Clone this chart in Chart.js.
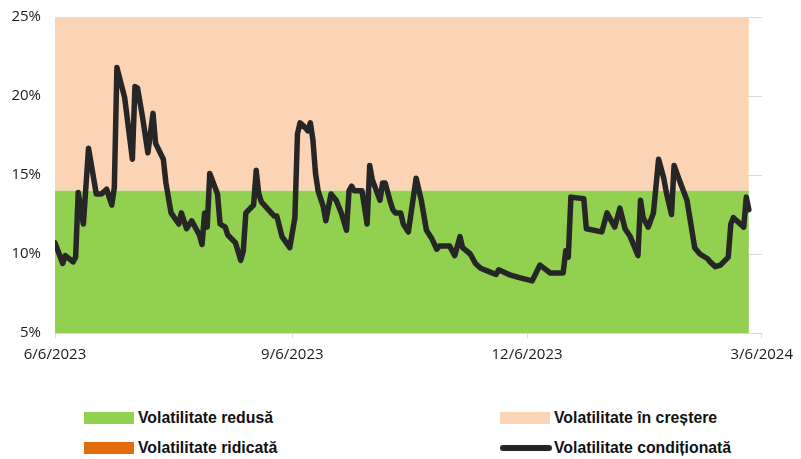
<!DOCTYPE html>
<html lang="ro">
<head>
<meta charset="UTF-8">
<title>Volatilitate condiționată</title>
<script src="https://cdn.jsdelivr.net/npm/chart.js"></script>
<style>
    * { margin: 0; padding: 0; box-sizing: border-box; }
    body { width: 801px; height: 459px; background: #fff; position: relative; overflow: hidden; }
    #wrap { position: absolute; left: 0; top: -6px; width: 801px; height: 379px; }
    .legend-item {
        position: absolute;
        height: 20px;
        display: flex;
        align-items: center;
        font-family: 'Liberation Sans Narrow', 'Arial Narrow', 'Liberation Sans', sans-serif;
        font-weight: bold;
        font-size: 17px;
        color: #111;
        white-space: nowrap;
    }
    .legend-item .txt { display: inline-block; transform: scaleX(0.93); transform-origin: left center; }
    .legend-item .box { width: 50px; height: 12px; margin-right: 4px; }
    .legend-item .line { width: 52px; height: 6px; border-radius: 3px; background: #262626; margin-right: 2px; }
</style>
</head>
<body>
<div id="wrap"><canvas id="chart" width="801" height="379"></canvas></div>

<div class="legend-item" style="left:84px; top:408px;"><span class="box" style="background:#92d050"></span><span class="txt">Volatilitate redusă</span></div>
<div class="legend-item" style="left:500px; top:408px;"><span class="box" style="background:#fad4b4"></span><span class="txt">Volatilitate în creștere</span></div>
<div class="legend-item" style="left:84px; top:438px;"><span class="box" style="background:#e46c0a"></span><span class="txt">Volatilitate ridicată</span></div>
<div class="legend-item" style="left:500px; top:438px;"><span class="line"></span><span class="txt">Volatilitate condiționată</span></div>

<script>
// data
const dates = [
    '2023-06-06','2023-06-09','2023-06-10','2023-06-13','2023-06-14','2023-06-15','2023-06-17','2023-06-19',
    '2023-06-22','2023-06-24','2023-06-26','2023-06-28','2023-06-29','2023-06-30','2023-07-03','2023-07-06',
    '2023-07-07','2023-07-08','2023-07-10','2023-07-12','2023-07-14','2023-07-15','2023-07-18','2023-07-19',
    '2023-07-21','2023-07-24','2023-07-25','2023-07-27','2023-07-29','2023-08-01','2023-08-02','2023-08-03',
    '2023-08-04','2023-08-05','2023-08-08','2023-08-09','2023-08-11','2023-08-12','2023-08-15','2023-08-17',
    '2023-08-18','2023-08-19','2023-08-22','2023-08-23','2023-08-24','2023-08-25','2023-08-30','2023-08-31',
    '2023-09-02','2023-09-05','2023-09-07','2023-09-08','2023-09-09','2023-09-11','2023-09-12','2023-09-13',
    '2023-09-14','2023-09-15','2023-09-16','2023-09-18','2023-09-19','2023-09-21','2023-09-23','2023-09-25',
    '2023-09-27','2023-09-28','2023-09-29','2023-09-30','2023-10-03','2023-10-05','2023-10-06','2023-10-07',
    '2023-10-10','2023-10-11','2023-10-12','2023-10-14','2023-10-15','2023-10-16','2023-10-18','2023-10-19',
    '2023-10-21','2023-10-24','2023-10-26','2023-10-28','2023-10-30','2023-11-01','2023-11-02','2023-11-06',
    '2023-11-08','2023-11-10','2023-11-11','2023-11-14','2023-11-16','2023-11-18','2023-11-21','2023-11-24',
    '2023-11-25','2023-11-29','2023-12-03','2023-12-08','2023-12-11','2023-12-15','2023-12-20','2023-12-21',
    '2023-12-22','2023-12-23','2023-12-28','2023-12-29','2024-01-04','2024-01-06','2024-01-09','2024-01-11',
    '2024-01-13','2024-01-15','2024-01-18','2024-01-19','2024-01-20','2024-01-22','2024-01-24','2024-01-26',
    '2024-01-28','2024-01-29','2024-01-31','2024-02-01','2024-02-03','2024-02-06','2024-02-09','2024-02-11',
    '2024-02-14','2024-02-15','2024-02-17','2024-02-19','2024-02-22','2024-02-23','2024-02-24','2024-02-28',
    '2024-02-29','2024-03-01'
];
const volatility = [
    10.7, 9.4, 9.9, 9.5, 9.8, 13.9, 11.9, 16.7,
    13.8, 13.8, 14.1, 13.1, 14.2, 21.8, 19.9, 16.0,
    20.6, 20.5, 18.6, 16.4, 18.9, 17.0, 16.0, 14.5,
    12.6, 11.9, 12.6, 11.6, 12.1, 11.2, 10.6, 12.6,
    11.7, 15.1, 13.8, 11.9, 11.7, 11.2, 10.7, 9.6,
    10.2, 12.6, 13.1, 15.3, 13.8, 13.3, 12.4, 12.4,
    11.1, 10.4, 12.3, 17.6, 18.3, 18.0, 17.8, 18.3,
    17.2, 15.1, 14.0, 13.0, 12.1, 13.8, 13.4, 12.6,
    11.5, 14.0, 14.3, 14.0, 14.0, 11.9, 15.6, 14.7,
    13.4, 14.5, 14.5, 13.3, 12.8, 12.6, 12.6, 11.9,
    11.4, 14.8, 13.4, 11.5, 11.0, 10.3, 10.5, 10.5,
    9.9, 11.1, 10.4, 10.0, 9.4, 9.1, 8.9, 8.7,
    9.0, 8.7, 8.5, 8.3, 9.3, 8.8, 8.8, 10.2,
    9.8, 13.6, 13.5, 11.6, 11.4, 12.6, 11.7, 12.9,
    11.6, 11.1, 9.9, 13.4, 12.3, 11.7, 12.6, 16.0,
    14.8, 13.9, 12.5, 15.6, 14.7, 13.4, 10.4, 10.0,
    9.7, 9.5, 9.2, 9.3, 9.8, 11.9, 12.3, 11.7,
    13.6, 12.8
];

// zone limits (%)
const lowLimit = 14;
const risingLimit = 25;

const tickDates = ['2023-06-06', '2023-09-06', '2023-12-06', '2024-03-06'];
const tickLabels = ['6/6/2023', '9/6/2023', '12/6/2023', '3/6/2024'];
const yTicks = [5, 10, 15, 20, 25];

const startDate = dates[0];
function dayOf(d) {
    return (Date.parse(d) - Date.parse(startDate)) / 86400000;
}

const linePoints = dates.map((d, i) => ({ x: dayOf(d), y: volatility[i] }));
const firstDay = dayOf(dates[0]);
const lastDay = dayOf(dates[dates.length - 1]);
const tickDays = tickDates.map(dayOf);

function band(y) {
    return [{ x: firstDay, y: y }, { x: lastDay, y: y }];
}

const ctx = document.getElementById('chart').getContext('2d');
new Chart(ctx, {
    type: 'line',
    data: {
        datasets: [
            {
                label: 'Volatilitate condiționată',
                data: linePoints,
                borderColor: '#262626',
                borderWidth: 5.5,
                borderJoinStyle: 'round',
                borderCapStyle: 'round',
                pointRadius: 0,
                tension: 0,
                fill: false
            },
            {
                label: 'Volatilitate redusă',
                data: band(lowLimit),
                borderWidth: 0,
                pointRadius: 0,
                backgroundColor: '#92d050',
                fill: 'start'
            },
            {
                label: 'Volatilitate în creștere',
                data: band(risingLimit),
                borderWidth: 0,
                pointRadius: 0,
                backgroundColor: '#fad4b4',
                fill: '-1'
            },
            {
                label: 'Volatilitate ridicată',
                data: band(risingLimit),
                borderWidth: 0,
                pointRadius: 0,
                backgroundColor: '#e46c0a',
                fill: 'end'
            }
        ]
    },
    options: {
        responsive: false,
        animation: false,
        layout: { padding: { left: 0, right: 36, top: 10, bottom: 0 } },
        plugins: {
            legend: { display: false },
            tooltip: { enabled: false }
        },
        scales: {
            x: {
                type: 'linear',
                min: tickDays[0],
                max: tickDays[tickDays.length - 1],
                afterBuildTicks: function(scale) {
                    scale.ticks = tickDays.map(v => ({ value: v }));
                },
                afterFit: function(scale) { scale.height = 40; },
                grid: { drawOnChartArea: false, drawTicks: true, tickLength: 5, color: '#d9d9d9' },
                border: { display: true, color: '#d9d9d9' },
                ticks: {
                    autoSkip: false,
                    maxRotation: 0,
                    padding: 8,
                    color: '#1a1a1a',
                    font: { family: 'Open Sans', size: 15 },
                    callback: function(value) {
                        const i = tickDays.indexOf(value);
                        return i >= 0 ? tickLabels[i] : '';
                    }
                }
            },
            y: {
                min: yTicks[0],
                max: yTicks[yTicks.length - 1],
                afterBuildTicks: function(scale) {
                    scale.ticks = yTicks.map(v => ({ value: v }));
                },
                afterFit: function(scale) { scale.width = 55; },
                grid: { color: '#d9d9d9', drawTicks: false },
                border: { display: false },
                ticks: {
                    padding: 14,
                    color: '#1a1a1a',
                    font: { family: 'Open Sans', size: 15 },
                    callback: function(value) { return value + '%'; }
                }
            }
        }
    }
});
</script>
</body>
</html>
